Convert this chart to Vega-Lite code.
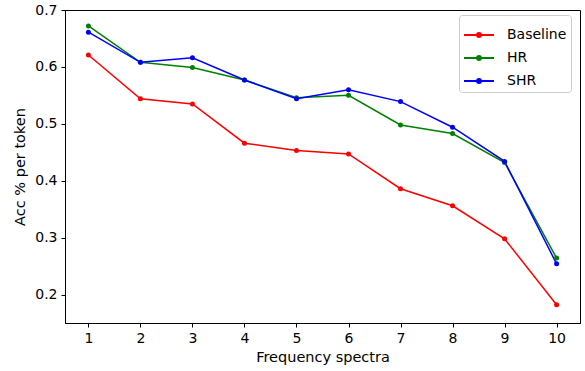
{
  "$schema": "https://vega.github.io/schema/vega-lite/v6.json",
  "autosize": "none",
  "width": 515,
  "height": 313,
  "padding": {"left": 65, "top": 10, "right": 5, "bottom": 48},
  "background": "white",
  "config": {
    "font": "DejaVu Sans",
    "view": {"stroke": "black", "strokeWidth": 1},
    "axis": {
      "grid": false,
      "domainColor": "black",
      "tickColor": "black",
      "tickSize": 4,
      "labelFontSize": 14,
      "labelColor": "black",
      "titleFontSize": 14.5,
      "titleFontWeight": "normal",
      "titleColor": "black",
      "labelPadding": 4
    }
  },
  "data": {
    "values": [
      {"f": 1, "acc": 0.621, "s": "Baseline"},
      {"f": 2, "acc": 0.544, "s": "Baseline"},
      {"f": 3, "acc": 0.535, "s": "Baseline"},
      {"f": 4, "acc": 0.466, "s": "Baseline"},
      {"f": 5, "acc": 0.453, "s": "Baseline"},
      {"f": 6, "acc": 0.447, "s": "Baseline"},
      {"f": 7, "acc": 0.386, "s": "Baseline"},
      {"f": 8, "acc": 0.356, "s": "Baseline"},
      {"f": 9, "acc": 0.298, "s": "Baseline"},
      {"f": 10, "acc": 0.182, "s": "Baseline"},
      {"f": 1, "acc": 0.672, "s": "HR"},
      {"f": 2, "acc": 0.608, "s": "HR"},
      {"f": 3, "acc": 0.599, "s": "HR"},
      {"f": 4, "acc": 0.577, "s": "HR"},
      {"f": 5, "acc": 0.546, "s": "HR"},
      {"f": 6, "acc": 0.550, "s": "HR"},
      {"f": 7, "acc": 0.498, "s": "HR"},
      {"f": 8, "acc": 0.483, "s": "HR"},
      {"f": 9, "acc": 0.432, "s": "HR"},
      {"f": 10, "acc": 0.264, "s": "HR"},
      {"f": 1, "acc": 0.661, "s": "SHR"},
      {"f": 2, "acc": 0.608, "s": "SHR"},
      {"f": 3, "acc": 0.616, "s": "SHR"},
      {"f": 4, "acc": 0.577, "s": "SHR"},
      {"f": 5, "acc": 0.544, "s": "SHR"},
      {"f": 6, "acc": 0.560, "s": "SHR"},
      {"f": 7, "acc": 0.539, "s": "SHR"},
      {"f": 8, "acc": 0.494, "s": "SHR"},
      {"f": 9, "acc": 0.434, "s": "SHR"},
      {"f": 10, "acc": 0.254, "s": "SHR"}
    ]
  },
  "mark": {"type": "line", "strokeWidth": 1.5, "point": {"filled": true, "size": 25}},
  "encoding": {
    "x": {
      "field": "f", "type": "quantitative",
      "scale": {"domain": [0.55, 10.45], "nice": false, "zero": false},
      "axis": {"values": [1,2,3,4,5,6,7,8,9,10], "title": "Frequency spectra", "titlePadding": 5}
    },
    "y": {
      "field": "acc", "type": "quantitative",
      "scale": {"domain": [0.15, 0.7], "nice": false, "zero": false},
      "axis": {"values": [0.2,0.3,0.4,0.5,0.6,0.7], "format": ".1f", "title": "Acc % per token", "titlePadding": 7}
    },
    "color": {
      "field": "s", "type": "nominal",
      "scale": {"domain": ["Baseline", "HR", "SHR"], "range": ["#ff0000", "#008000", "#0000ff"]},
      "legend": {
        "title": null,
        "orient": "none",
        "legendX": 394,
        "legendY": 5,
        "fillColor": "white",
        "strokeColor": "#cccccc",
        "cornerRadius": 3,
        "padding": 4,
        "labelFontSize": 14,
        "labelColor": "black",
        "symbolType": "M-1,0H1M-0.13,0a0.13,0.13 0 1,0 0.26,0a0.13,0.13 0 1,0 -0.26,0",
        "symbolSize": 900,
        "symbolStrokeWidth": 2,
        "rowPadding": -13,
        "labelOffset": 12
      }
    }
  }
}
